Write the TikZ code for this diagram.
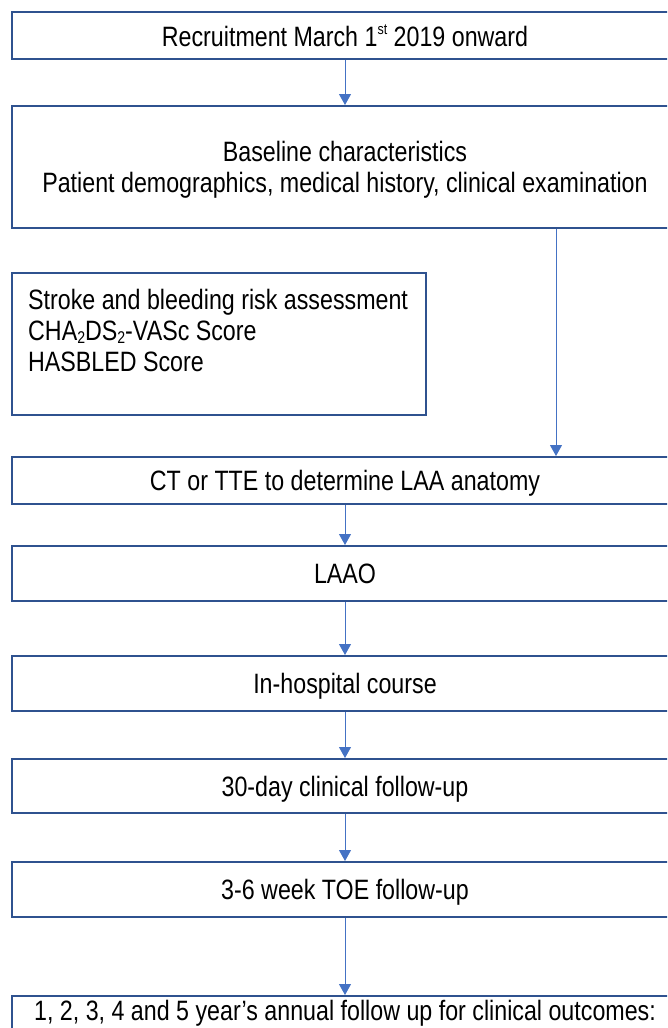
\documentclass[tikz,border=0pt]{standalone}
\usepackage{fontspec}
\setmainfont{Liberation Sans}[FakeStretch=0.83]
\usetikzlibrary{arrows.meta,positioning,calc}
\definecolor{boxblue}{RGB}{47,82,143}
\definecolor{arrblue}{RGB}{68,114,196}
\newcommand{\supsm}[1]{\raisebox{0.45em}{\fontsize{15}{15}\selectfont #1}}
\newcommand{\subsm}[1]{\raisebox{-0.12em}{\fontsize{17}{17}\selectfont #1}}
\begin{document}
\begin{tikzpicture}[x=1pt,y=-1pt,
  flowbox/.style={draw=boxblue, line width=2pt, minimum width=666pt, inner sep=0pt,
    align=center, font=\fontsize{28}{31}\selectfont, text=black, text depth=0pt},
  arr/.style={draw=arrblue, line width=1pt, -{Triangle[width=12pt,length=11pt]}, arrblue},
  plain/.style={font=\fontsize{28}{31}\selectfont, align=left, inner sep=0pt, text=black}]
\useasboundingbox (0,0) rectangle (667,1028);
\clip (0,0) rectangle (667,1028);
\fill[white] (0,0) rectangle (667,1028);

\node[flowbox, minimum height=47pt] (recr) at (345,35.5) {Recruitment March 1\supsm{st} 2019 onward};
\node[flowbox, minimum height=122pt] (base) at (345,167) {Baseline characteristics\\Patient demographics, medical history, clinical examination};
\node[draw=boxblue, line width=2pt, minimum width=414pt, minimum height=142pt, inner sep=0pt] (risk) at (219,344) {};
\node[plain, anchor=north west] (risktext) at (28,289) {Stroke and bleeding risk assessment\\CHA\subsm{2}DS\subsm{2}-VASc Score\\HASBLED Score};
\node[flowbox, minimum height=47pt] (ct) at (345,480.5) {CT or TTE to determine LAA anatomy};
\node[flowbox, minimum height=55pt] (laao) at (345,573.5) {LAAO};
\node[flowbox, minimum height=55pt] (hosp) at (345,683.5) {In-hospital course};
\node[flowbox, minimum height=54pt] (fu30) at (345,786) {30-day clinical follow-up};
\node[flowbox, minimum height=55pt] (toe) at (345,889.5) {3-6 week TOE follow-up};
\node[draw=boxblue, line width=2pt, minimum width=666pt, minimum height=100pt, inner sep=0pt] (annual) at (345,1046) {};
\node[plain, anchor=center] (annualtext) at (345,1013) {1, 2, 3, 4 and 5 year’s annual follow up for clinical outcomes:};

\coordinate (rx) at (556,0);
\draw[arr] (recr.south) -- (base.north);
\draw[arr] (base.south -| rx) -- (ct.north -| rx);
\draw[arr] (ct.south) -- (laao.north);
\draw[arr] (laao.south) -- (hosp.north);
\draw[arr] (hosp.south) -- (fu30.north);
\draw[arr] (fu30.south) -- (toe.north);
\draw[arr] (toe.south) -- (annual.north);
\end{tikzpicture}
\end{document}
